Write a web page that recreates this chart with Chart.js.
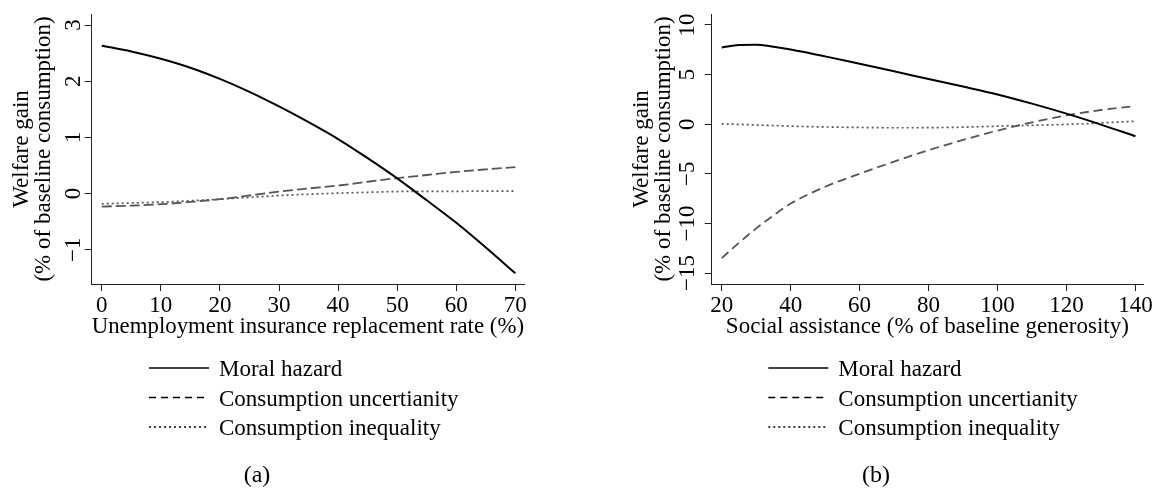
<!DOCTYPE html>
<html>
<head>
<meta charset="utf-8">
<script src="https://cdn.jsdelivr.net/npm/chart.js@4/dist/chart.umd.min.js"></script>
<style>
    html, body { margin: 0; padding: 0; background: #fff; }
    #wrap { position: relative; width: 1154px; height: 489px; }
    canvas { position: absolute; top: 0; }
    #panelA { left: 0; }
    #panelB { left: 577px; }
</style>
</head>
<body>
<div id="wrap">
    <canvas id="panelA" width="577" height="489"></canvas>
    <canvas id="panelB" width="577" height="489"></canvas>
</div>
<script>
// panel (a): unemployment insurance
const rateA = [0, 5, 10, 15, 20, 25, 30, 35, 40, 45, 50, 55, 60, 65, 70];
const moralA = [2.63, 2.53, 2.40, 2.24, 2.04, 1.81, 1.55, 1.27, 0.97, 0.63, 0.27, -0.12, -0.52, -0.96, -1.42];
const uncertA = [-0.231, -0.215, -0.19, -0.15, -0.10, -0.035, 0.036, 0.09, 0.142, 0.21, 0.274, 0.33, 0.386, 0.43, 0.47];
const ineqA = [-0.183, -0.168, -0.153, -0.128, -0.10, -0.068, -0.036, -0.012, 0.007, 0.022, 0.036, 0.04, 0.04, 0.043, 0.045];
const xTicksA = [0, 10, 20, 30, 40, 50, 60, 70];
const yTicksA = [-1, 0, 1, 2, 3];

// panel (b): social assistance
const generosityB = [20, 25, 30, 35, 40, 50, 60, 70, 80, 90, 100, 110, 120, 130, 140];
const moralB = [7.72, 7.98, 8.0, 7.8, 7.52, 6.83, 6.08, 5.33, 4.55, 3.79, 3.0, 2.07, 1.06, -0.04, -1.21];
const uncertB = [-13.5, -11.95, -10.5, -9.2, -8.0, -6.3, -5.0, -3.77, -2.62, -1.59, -0.64, 0.18, 0.88, 1.43, 1.83];
const ineqB = [0.03, -0.02, -0.08, -0.14, -0.2, -0.28, -0.33, -0.36, -0.35, -0.3, -0.2, -0.11, -0.02, 0.12, 0.3];
const xTicksB = [20, 40, 60, 80, 100, 120, 140];
const yTicksB = [-15, -10, -5, 0, 5, 10];

const seriesNames = ['Moral hazard', 'Consumption uncertianity', 'Consumption inequality'];

const SERIF = "'Liberation Serif', 'Times New Roman', serif";
Chart.defaults.font.family = SERIF;
Chart.defaults.font.size = 23;
Chart.defaults.color = '#000';

// legend rows + panel caption, drawn under the axes
const legendRows = {
    id: 'legendRows',
    afterDraw(chart, args, opts) {
        const ctx = chart.ctx;
        ctx.save();
        ctx.font = '23px ' + SERIF;
        ctx.fillStyle = '#000';
        ctx.textAlign = 'left';
        ctx.textBaseline = 'alphabetic';
        chart.data.datasets.forEach((ds, i) => {
            const y = opts.top + i * opts.gap;
            ctx.beginPath();
            ctx.setLineDash(opts.dashes[i]);
            ctx.strokeStyle = '#000';
            ctx.lineWidth = 1.3;
            ctx.moveTo(opts.x, y);
            ctx.lineTo(opts.x + opts.len, y);
            ctx.stroke();
            ctx.setLineDash([]);
            ctx.fillText(ds.label, opts.x + opts.len + 10, y + 8);
        });
        ctx.font = '24px ' + SERIF;
        ctx.textAlign = 'center';
        ctx.fillText(opts.caption, opts.capX, opts.capY);
        ctx.restore();
    }
};

function fmtMinus(v) {
    return v < 0 ? '\u2212' + Math.abs(v) : String(v);
}

function toPoints(xs, ys) {
    return xs.map((x, i) => ({x: x, y: ys[i]}));
}

function makePanel(id, xs, series, p) {
    const ctx = document.getElementById(id).getContext('2d');
    return new Chart(ctx, {
        type: 'line',
        data: {
            datasets: [
                {
                    label: seriesNames[0],
                    data: toPoints(xs, series[0]),
                    borderColor: '#000',
                    borderWidth: 2,
                },
                {
                    label: seriesNames[1],
                    data: toPoints(xs, series[1]),
                    borderColor: '#555',
                    borderWidth: 1.8,
                    borderDash: p.dash,
                },
                {
                    label: seriesNames[2],
                    data: toPoints(xs, series[2]),
                    borderColor: '#555',
                    borderWidth: 1.7,
                    borderDash: [2, 3],
                }
            ]
        },
        options: {
            responsive: false,
            animation: false,
            devicePixelRatio: 1,
            cubicInterpolationMode: 'monotone',
            elements: { point: { radius: 0 } },
            layout: { padding: p.padding },
            plugins: {
                legend: { display: false },
                tooltip: { enabled: false },
                legendRows: {
                    x: p.legendX, top: 368, gap: 29.5, len: 60,
                    dashes: [[], [7, 5], [2, 3]],
                    caption: p.caption, capX: p.capX, capY: 482
                }
            },
            scales: {
                x: {
                    type: 'linear',
                    min: p.xMin,
                    max: p.xMax,
                    afterBuildTicks: s => { s.ticks = p.xTicks.map(v => ({value: v})); },
                    afterFit: s => { s.height = 56.5; },
                    grid: { drawOnChartArea: false, tickLength: 7, color: '#222' },
                    border: { display: true, color: '#222', width: 1 },
                    ticks: { padding: 1, maxRotation: 0, autoSkip: false },
                    title: { display: true, text: p.xTitle, padding: { top: 0, bottom: 0 } }
                },
                y: {
                    type: 'linear',
                    min: p.yMin,
                    max: p.yMax,
                    afterBuildTicks: s => { s.ticks = p.yTicks.map(v => ({value: v})); },
                    afterFit: s => { s.width = 91.7; },
                    grid: { drawOnChartArea: false, tickLength: 7, color: '#222' },
                    border: { display: true, color: '#222', width: 1 },
                    ticks: {
                        minRotation: 90, maxRotation: 90, crossAlign: 'center',
                        padding: -1.2, autoSkip: false,
                        callback: v => fmtMinus(v)
                    },
                    title: {
                        display: true,
                        text: ['Welfare gain', '(% of baseline consumption)'],
                        font: { size: 23, lineHeight: 0.957 },
                        padding: { top: 10.5, bottom: 0 }
                    }
                }
            }
        },
        plugins: [legendRows]
    });
}

makePanel('panelA', rateA, [moralA, uncertA, ineqA], {
    padding: { left: 0, top: 14, right: 53, bottom: 148.5 },
    xMin: -1.7, xMax: 71.46, yMin: -1.61, yMax: 3.196,
    xTicks: xTicksA, yTicks: yTicksA,
    dash: [10, 4],
    xTitle: 'Unemployment insurance replacement rate (%)',
    legendX: 149, caption: '(a)', capX: 257
});

makePanel('panelB', generosityB, [moralB, uncertB, ineqB], {
    padding: { left: 43, top: 14, right: 11, bottom: 148.5 },
    xMin: 17.1, xMax: 142.2, yMin: -16.1, yMax: 11.1,
    xTicks: xTicksB, yTicks: yTicksB,
    dash: [9, 5],
    xTitle: 'Social assistance (% of baseline generosity)',
    legendX: 191.3, caption: '(b)', capX: 299
});
</script>
</body>
</html>
